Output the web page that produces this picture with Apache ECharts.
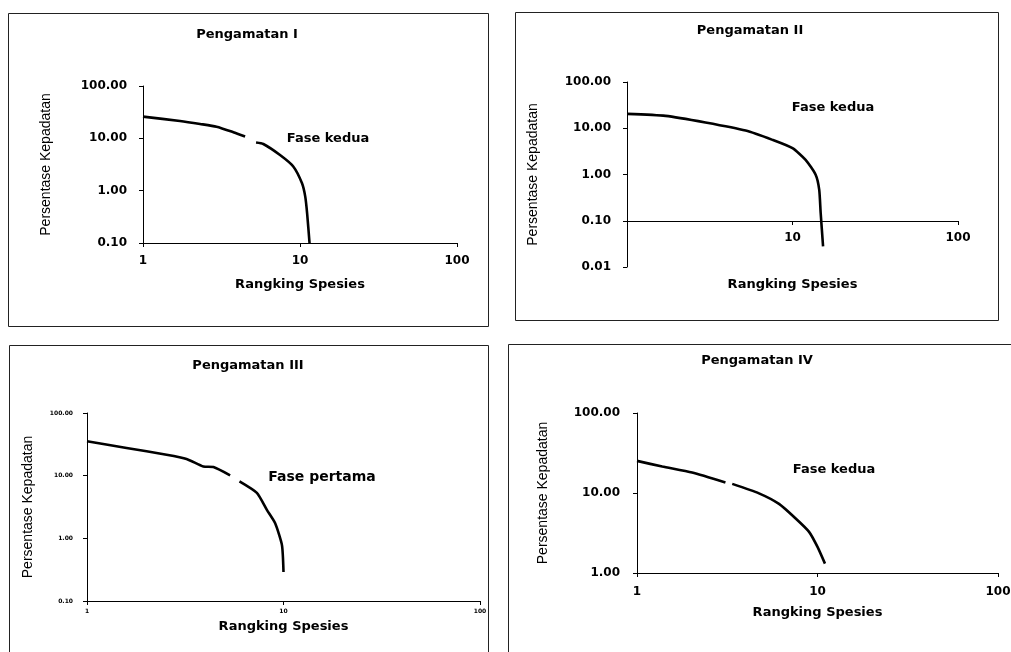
<!DOCTYPE html>
<html>
<head>
<meta charset="utf-8">
<script src="https://cdn.jsdelivr.net/npm/echarts@6/dist/echarts.min.js"></script>
<style>
  html, body { margin: 0; background: #fff; }
  #main { width: 1011px; height: 652px; }
</style>
</head>
<body>
<div id="main"></div>
<script>
// Pengamatan I  (null = break in the drawn curve)
const rank1 = [1, 1.72, 2.31, 2.94, 3.76, 4.47, null, 5.25, 5.84, 7.46, 9.06, 10.3, 10.8, 11.1, 11.5]
const dens1 = [26, 21.4, 18.8, 16.7, 13.1, 10.8, null, 8.3, 7.8, 4.8, 2.9, 1.38, 0.77, 0.37, 0.1]
// Pengamatan II
const rank2 = [1, 1.71, 2.98, 5.21, 7.57, 10, 12.0, 13.8, 14.5, 14.8, 15.3]
const dens2 = [20.5, 18.5, 13.3, 8.9, 5.6, 3.7, 2.07, 0.99, 0.47, 0.147, 0.028]
// Pengamatan III
const rank3 = [1, 1.59, 2.54, 3.21, 3.91, 4.4, 5.35, null, 5.97, 7.32, 8.23, 9.07, 9.82, 10.0]
const dens3 = [35.3, 27.7, 21.6, 18.5, 14.0, 13.7, 10.1, null, 8.1, 5.3, 2.84, 1.74, 0.78, 0.29]
// Pengamatan IV
const rank4 = [1, 1.38, 2.02, 3.09, null, 3.37, 4.74, 6.12, 7.57, 8.98, 10.0, 11.0]
const dens4 = [25.2, 21.4, 18.0, 13.5, null, 13.0, 9.9, 7.3, 4.8, 3.27, 2.12, 1.31]

// tick labels, one per decade starting at the axis minimum
const xLabels = ['1', '10', '100']
const xLabels2 = ['', '10', '100']
const yLabels1 = ['0.10', '1.00', '10.00', '100.00']
const yLabels2 = ['0.01', '0.10', '1.00', '10.00', '100.00']
const yLabels3 = ['0.10', '1.00', '10.00', '100.00']
const yLabels4 = ['1.00', '10.00', '100.00']

const titles = ['Pengamatan I', 'Pengamatan II', 'Pengamatan III', 'Pengamatan IV']
const notes = ['Fase kedua', 'Fase kedua', 'Fase pertama', 'Fase kedua']

const FONT = 'DejaVu Sans'

function pick(labels, minExp) {
  return (v) => labels[Math.round(Math.log10(v)) - minExp] || ''
}

function toPairs(xs, ys) {
  return xs.map((x, i) => (x == null || ys[i] == null ? '-' : [x, ys[i]]))
}

// layout of each panel
const panels = [
  { grid: { left: 143, top: 86, width: 314, height: 157 }, yMin: 0.1, yMinExp: -1, yl: yLabels1, xl: xLabels,
    xOffset: 0, xGap: 35, yGap: 90, lab: 12, xMargin: 12, yMargin: 16, data: toPairs(rank1, dens1) },
  { grid: { left: 627, top: 82, width: 331, height: 185 }, yMin: 0.01, yMinExp: -2, yl: yLabels2, xl: xLabels2,
    xOffset: -46, xGap: 57, yGap: 87, lab: 12, xMargin: 11, yMargin: 16, data: toPairs(rank2, dens2) },
  { grid: { left: 87, top: 413, width: 393, height: 188 }, yMin: 0.1, yMinExp: -1, yl: yLabels3, xl: xLabels,
    xOffset: 0, xGap: 19, yGap: 52, lab: 6, xMargin: 7, yMargin: 14, data: toPairs(rank3, dens3) },
  { grid: { left: 637, top: 413, width: 361, height: 160 }, yMin: 1, yMinExp: 0, yl: yLabels4, xl: xLabels,
    xOffset: 0, xGap: 33, yGap: 87, lab: 12, xMargin: 13, yMargin: 17, data: toPairs(rank4, dens4) },
]

const axisLine = { show: true, lineStyle: { color: '#000', width: 1 } }
const axisTick = { show: true, length: 4, lineStyle: { color: '#000', width: 1 } }

const option = {
  backgroundColor: '#fff',
  animation: false,
  grid: panels.map((p) => Object.assign({ containLabel: false, outerBoundsMode: 'none' }, p.grid)),
  xAxis: panels.map((p, i) => ({
    type: 'log',
    logBase: 10,
    gridIndex: i,
    min: 1,
    max: 100,
    offset: p.xOffset,
    name: 'Rangking Spesies',
    nameLocation: 'middle',
    nameGap: p.xGap,
    nameTextStyle: { fontFamily: FONT, fontWeight: 'bold', fontSize: 13, color: '#000' },
    axisLine: axisLine,
    axisTick: axisTick,
    splitLine: { show: false },
    minorTick: { show: false },
    axisLabel: {
      margin: p.xMargin,
      fontFamily: FONT,
      fontWeight: 'bold',
      fontSize: p.lab,
      color: '#000',
      showMinLabel: true,
      showMaxLabel: true,
      formatter: pick(p.xl, 0),
    },
  })),
  yAxis: panels.map((p, i) => ({
    type: 'log',
    logBase: 10,
    gridIndex: i,
    min: p.yMin,
    max: 100,
    name: 'Persentase Kepadatan',
    nameLocation: 'middle',
    nameGap: p.yGap,
    nameTextStyle: { fontFamily: 'Liberation Sans', fontSize: 14, color: '#000' },
    axisLine: axisLine,
    axisTick: axisTick,
    splitLine: { show: false },
    minorTick: { show: false },
    axisLabel: {
      margin: p.yMargin,
      fontFamily: FONT,
      fontWeight: 'bold',
      fontSize: p.lab,
      color: '#000',
      showMinLabel: true,
      showMaxLabel: true,
      formatter: pick(p.yl, p.yMinExp),
    },
  })),
  series: panels.map((p, i) => ({
    type: 'line',
    xAxisIndex: i,
    yAxisIndex: i,
    data: p.data,
    showSymbol: false,
    smooth: 0.2,
    connectNulls: false,
    lineStyle: { color: '#000', width: 2.6 },
  })),
  graphic: [
    // panel frames
    { type: 'rect', shape: { x: 8.5, y: 13.5, width: 480, height: 313 }, style: { fill: 'none', stroke: '#222', lineWidth: 1 } },
    { type: 'rect', shape: { x: 515.5, y: 12.5, width: 483, height: 308 }, style: { fill: 'none', stroke: '#222', lineWidth: 1 } },
    { type: 'rect', shape: { x: 9.5, y: 345.5, width: 479, height: 320 }, style: { fill: 'none', stroke: '#222', lineWidth: 1 } },
    { type: 'rect', shape: { x: 508.5, y: 344.5, width: 520, height: 320 }, style: { fill: 'none', stroke: '#222', lineWidth: 1 } },
    // titles
    ...[[247, 35], [750, 31], [248, 366], [757, 361]].map((pos, i) => ({
      type: 'text', x: pos[0], y: pos[1],
      style: { text: titles[i], font: 'bold 13px "DejaVu Sans"', fill: '#000',
        textAlign: 'center', textVerticalAlign: 'middle', align: 'center', verticalAlign: 'middle' },
    })),
    // phase notes
    ...[[328, 139, 13], [833, 108, 13], [322, 477, 14], [834, 470, 13]].map((pos, i) => ({
      type: 'text', x: pos[0], y: pos[1],
      style: { text: notes[i], font: 'bold ' + pos[2] + 'px "DejaVu Sans"', fill: '#000',
        textAlign: 'center', textVerticalAlign: 'middle', align: 'center', verticalAlign: 'middle' },
    })),
  ],
}

const chart = echarts.init(document.getElementById('main'))
chart.setOption(option)
</script>
</body>
</html>
